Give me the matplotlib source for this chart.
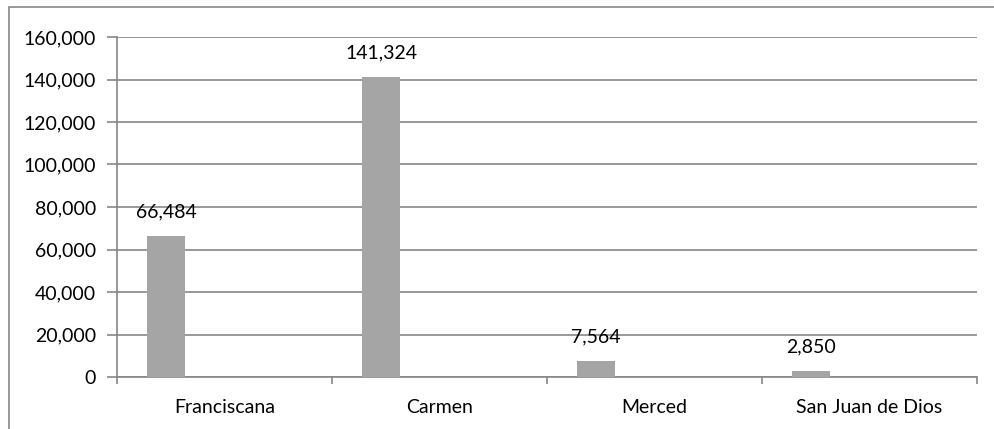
import numpy as np
import matplotlib.pyplot as plt
from matplotlib.patches import Rectangle

# ── Data ───────────────────────────────────────────────────────────────────
categories = ["Franciscana", "Carmen", "Merced", "San Juan de Dios"]
values     = [66484, 141324, 7564, 2850]
y_ticks    = [0, 20000, 40000, 60000, 80000, 100000, 120000, 140000, 160000]

GRID  = "#868686"
BAR   = "#A5A5A5"
FONT  = "Lato"
FS    = 14

plt.rcParams["font.family"] = [FONT, "DejaVu Sans"]

fig = plt.figure(figsize=(9.95, 4.29), dpi=100)
ax = fig.add_axes([117 / 995, 1 - 377 / 429, 860 / 995, 340 / 429])

# outer chart border (runs off the right / bottom edge)
fig.patches.append(Rectangle((9 / 995, -0.1), 1.2, (429 - 7) / 429 + 0.1,
                             transform=fig.transFigure, fill=False,
                             edgecolor=GRID, linewidth=1.2))

x = np.arange(len(categories))
bar_w = 0.178
offset = -0.272
bars = ax.bar(x + offset, values, width=bar_w, color=BAR, zorder=3)

for b, v in zip(bars, values):
    ax.annotate(f"{v:,}", (b.get_x() + b.get_width() / 2, v),
                xytext=(0, 17), textcoords="offset points",
                ha="center", va="center", fontsize=FS, color="black")

ax.set_xlim(-0.5, len(categories) - 0.5)
ax.set_ylim(0, 160000)
ax.set_yticks(y_ticks)
ax.set_yticklabels([f"{t:,}" for t in y_ticks], fontsize=FS)

ax.set_xticks(x)
ax.set_xticklabels(categories, fontsize=FS)
ax.set_xticks(np.arange(len(categories) + 1) - 0.5, minor=True)
ax.tick_params(axis="x", which="major", length=0, pad=16)
ax.tick_params(axis="x", which="minor", length=5, width=1.2, color=GRID)
ax.tick_params(axis="y", length=7, width=1.2, color=GRID, pad=8)

ax.grid(axis="y", color=GRID, linewidth=1.2, zorder=0)
for s in ["top", "right"]:
    ax.spines[s].set_visible(False)
for s in ["left", "bottom"]:
    ax.spines[s].set_color(GRID)
    ax.spines[s].set_linewidth(1.2)

fig.savefig("out.png", dpi=100)
